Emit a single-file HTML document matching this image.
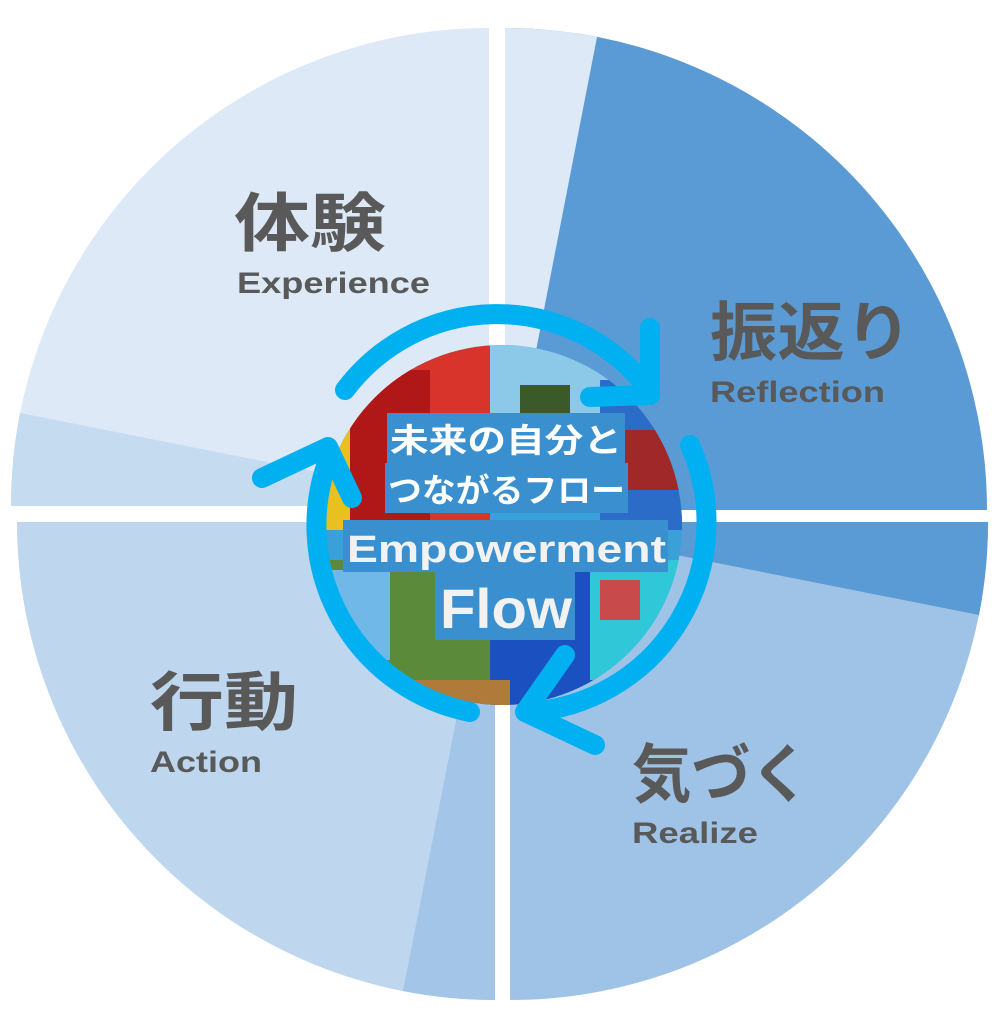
<!DOCTYPE html>
<html><head><meta charset="utf-8"><style>
html,body{margin:0;padding:0;background:#fff;}
svg{display:block}
text{font-family:"Liberation Sans","Noto Sans CJK JP",sans-serif;font-weight:bold;}
</style></head><body>
<svg width="1007" height="1024" viewBox="0 0 1007 1024" xmlns="http://www.w3.org/2000/svg">
<path d="M489,506 L11,506 A478,478 0 0 1 489,28 Z" fill="#dde9f6"/>
<path d="M489,506 L11,506 A478,478 0 0 1 20,413 Z" fill="#c5dbf0"/>
<path d="M505,510 L505,28 A482,482 0 0 1 987,510 Z" fill="#5b9bd5"/>
<path d="M505,510 L505,28 A482,482 0 0 1 597,37 Z" fill="#dde9f6"/>
<path d="M510,522 L988,522 A478,478 0 0 1 510,1000 Z" fill="#9fc3e7"/>
<path d="M510,522 L988,522 A478,478 0 0 1 979,615 Z" fill="#5b9bd5"/>
<path d="M495,522 L495,1000 A478,478 0 0 1 17,522 Z" fill="#bed7ef"/>
<path d="M495,522 L495,1000 A478,478 0 0 1 403,991 Z" fill="#a3c5e8"/>

<defs><clipPath id="c"><circle cx="502" cy="525" r="180"/></clipPath></defs>
<g clip-path="url(#c)">
<rect x="300" y="330" width="420" height="400" fill="#3aa0d8"/>
<rect x="300" y="330" width="190" height="200" fill="#d8342c"/>
<rect x="320" y="380" width="40" height="150" fill="#e8c020"/>
<rect x="350" y="370" width="80" height="150" fill="#b01818"/>
<rect x="490" y="330" width="130" height="90" fill="#8cc8e8"/>
<rect x="520" y="385" width="50" height="30" fill="#3a5a2a"/>
<rect x="600" y="380" width="110" height="150" fill="#2a6cc8"/>
<rect x="620" y="430" width="60" height="60" fill="#a02828"/>
<rect x="300" y="560" width="200" height="170" fill="#5a8a3a"/>
<rect x="330" y="570" width="60" height="90" fill="#70b8e8"/>
<rect x="490" y="560" width="110" height="170" fill="#1a50c0"/>
<rect x="590" y="560" width="120" height="120" fill="#30c8d8"/>
<rect x="600" y="580" width="40" height="40" fill="#c84a4a"/>
<rect x="400" y="680" width="110" height="50" fill="#b07a3a"/>
</g>
<rect x="387" y="413" width="238" height="50" fill="#3a90cf"/>
<rect x="385" y="463" width="243" height="50" fill="#3a90cf"/>
<rect x="343" y="520" width="325" height="52" fill="#3a90cf"/>
<rect x="435" y="572" width="140" height="68" fill="#3a90cf"/>
<text x="390" y="452" font-size="33" fill="#fff" textLength="232" lengthAdjust="spacingAndGlyphs">未来の自分と</text>
<text x="388" y="502" font-size="33" fill="#fff" textLength="237" lengthAdjust="spacingAndGlyphs">つながるフロー</text>
<text x="347" y="562" font-size="38" fill="#f2f2f2" textLength="319" lengthAdjust="spacingAndGlyphs">Empowerment</text>
<text x="440" y="628" font-size="56" fill="#f2f2f2" textLength="132" lengthAdjust="spacingAndGlyphs">Flow</text>

<g fill="none" stroke="#00b0f0" stroke-width="20" stroke-linecap="round" stroke-linejoin="round">
<path d="M345,390 A190,190 0 0 1 645,385"/>
<path d="M650,328 L650,395 L590,397"/>
<path d="M690,445 A190,190 0 0 1 530,712"/>
<path d="M565,655 L525,712 L595,745"/>
<path d="M470,712 A190,190 0 0 1 330,455"/>
<path d="M262,478 L328,447 L352,498"/>
</g>

<g fill="#595959">
<text x="234" y="246" font-size="64" textLength="152" lengthAdjust="spacingAndGlyphs">体験</text>
<text x="237" y="293" font-size="30" textLength="193" lengthAdjust="spacingAndGlyphs">Experience</text>
<text x="710" y="355" font-size="64" textLength="202" lengthAdjust="spacingAndGlyphs">振返り</text>
<text x="710" y="402" font-size="30" textLength="175" lengthAdjust="spacingAndGlyphs">Reflection</text>
<text x="150" y="725" font-size="64" textLength="148" lengthAdjust="spacingAndGlyphs">行動</text>
<text x="150" y="772" font-size="30" textLength="112" lengthAdjust="spacingAndGlyphs">Action</text>
<text x="632" y="797" font-size="64" textLength="178" lengthAdjust="spacingAndGlyphs">気づく</text>
<text x="632" y="843" font-size="30" textLength="126" lengthAdjust="spacingAndGlyphs">Realize</text>
</g>
</svg>
</body></html>
